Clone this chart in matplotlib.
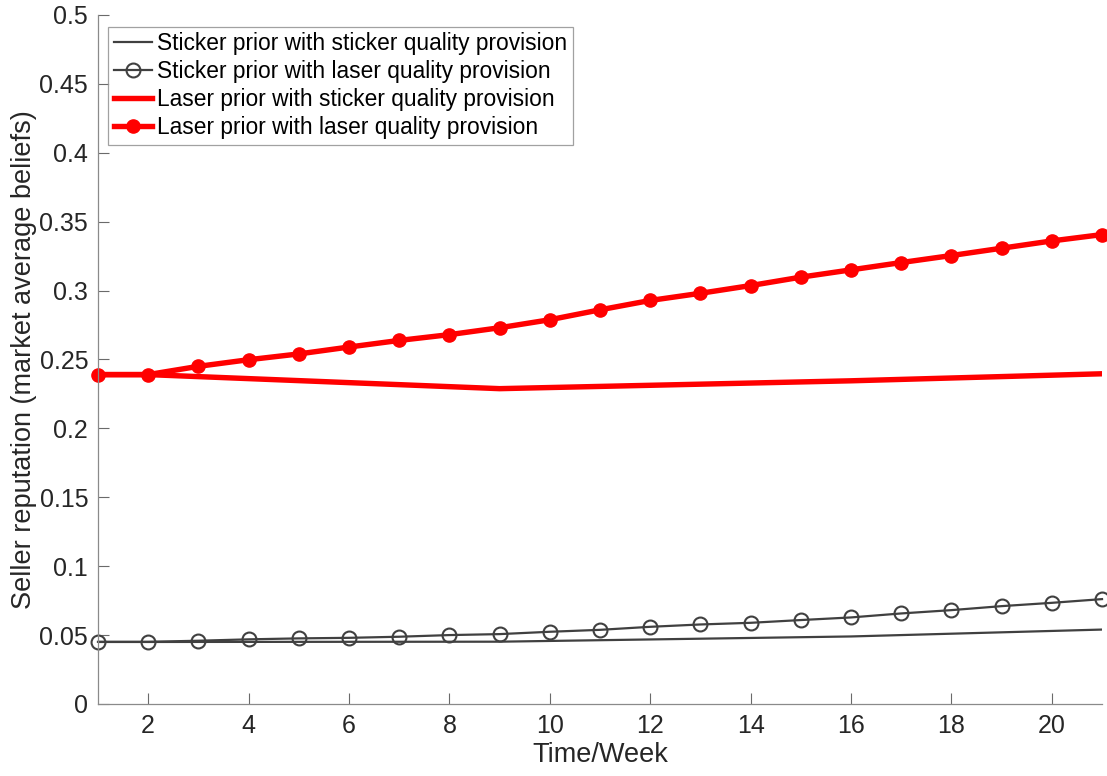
import numpy as np
import matplotlib.pyplot as plt

plt.rcParams['font.family'] = ['Liberation Sans', 'DejaVu Sans']

weeks = np.arange(1, 22)

# sticker prior, sticker quality provision (only the knots seen in the plot)
ss_weeks = [1, 2, 9, 16, 21]
ss_vals = [0.045, 0.045, 0.0452, 0.0490, 0.0540]

# sticker prior, laser quality provision
sl_vals = [0.0451, 0.0451, 0.0459, 0.0469, 0.0476, 0.0480, 0.0488, 0.0500, 0.0507,
           0.0524, 0.0538, 0.0560, 0.0577, 0.0589, 0.0609, 0.0628, 0.0657, 0.0681,
           0.0710, 0.0734, 0.0761]

# laser prior, sticker quality provision
ls_weeks = [1, 2, 9, 16, 21]
ls_vals = [0.239, 0.239, 0.2288, 0.2345, 0.2396]

# laser prior, laser quality provision
ll_vals = [0.239, 0.239, 0.245, 0.2498, 0.254, 0.259, 0.2638, 0.268, 0.273,
           0.2788, 0.286, 0.2928, 0.298, 0.3036, 0.3097, 0.315, 0.3203, 0.3254,
           0.3307, 0.3360, 0.3406]

labels = ['Sticker prior with sticker quality provision',
          'Sticker prior with laser quality provision',
          'Laser prior with sticker quality provision',
          'Laser prior with laser quality provision']

gray = '#404040'
fig = plt.figure(figsize=(11.07, 7.76), dpi=100)
ax = fig.add_axes([0.0885, 0.0928, 0.907, 0.888])

ax.plot(ss_weeks, ss_vals, color=gray, linewidth=1.6, label=labels[0])
ax.plot(weeks, sl_vals, color=gray, linewidth=1.6, marker='o', markersize=10,
        markerfacecolor='none', markeredgewidth=1.5, label=labels[1], clip_on=False)
ax.plot(ls_weeks, ls_vals, color='red', linewidth=3.9, label=labels[2])
ax.plot(weeks, ll_vals, color='red', linewidth=3.9, marker='o', markersize=9.5,
        label=labels[3], clip_on=False)

ax.set_xlim(1, 21)
ax.set_ylim(0, 0.5)
ax.set_xticks(np.arange(2, 21, 2))
yt = np.round(np.arange(0, 0.501, 0.05), 2)
ax.set_yticks(yt)
ax.set_yticklabels(['%g' % v for v in yt])

for s in ['top', 'right']:
    ax.spines[s].set_visible(False)
for s in ['left', 'bottom']:
    ax.spines[s].set_color('#8a8a8a')
    ax.spines[s].set_linewidth(0.9)
ax.tick_params(direction='in', length=8, width=0.8, colors='#6a6a6a',
               labelsize=18, labelcolor='#262626', pad=7)

ax.set_xlabel('Time/Week', fontsize=19.5, color='#262626', labelpad=3)
ax.set_ylabel('Seller reputation (market average beliefs)', fontsize=19.5,
              color='#262626', labelpad=2)

leg = ax.legend(loc='upper left', bbox_to_anchor=(0.01, 0.983), fontsize=16.4,
                frameon=True, fancybox=False, handlelength=1.7, handletextpad=0.2,
                borderpad=0.25, labelspacing=0.22, borderaxespad=0)
leg.get_frame().set_edgecolor('#8a8a8a')
leg.get_frame().set_linewidth(0.9)

plt.savefig('out.png', dpi=100)
